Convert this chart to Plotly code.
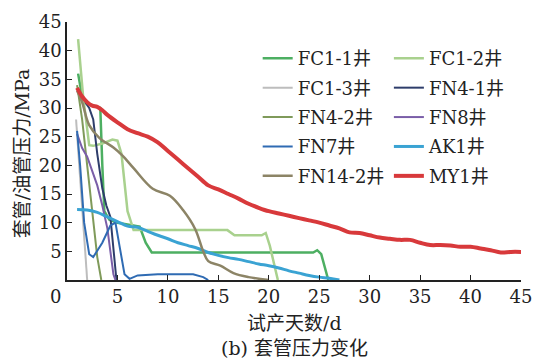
import plotly.graph_objects as go

# ---- data ----
fc11_x = [1.1, 1.6, 2.5, 3.3, 3.5, 3.7, 4.2, 5.0, 6.0, 7.2, 7.8, 8.4, 15.0, 24.4, 24.8, 25.2, 25.9]
fc11_y = [36.0, 31.0, 30.5, 30.0, 20.0, 12.0, 10.5, 10.0, 9.7, 9.3, 6.5, 4.8, 4.8, 4.8, 5.2, 4.5, 0.0]

fc12_x = [1.1, 1.6, 2.2, 2.6, 3.5, 4.5, 5.0, 5.4, 6.0, 6.6, 10.0, 15.9, 16.6, 19.3, 19.7, 20.1, 20.9]
fc12_y = [42.0, 32.0, 23.5, 23.4, 23.8, 24.5, 24.3, 22.0, 12.0, 8.7, 8.7, 8.7, 7.8, 7.8, 8.2, 6.0, 0.0]

fc13_x = [0.9, 1.4, 2.0]
fc13_y = [28.0, 16.0, 0.0]

fn41_x = [1.8, 2.2, 2.6, 3.0, 3.5, 3.9, 4.3, 4.6, 4.9]
fn41_y = [31.0, 30.0, 28.0, 22.0, 16.0, 13.0, 11.0, 6.0, 0.0]

fn42_x = [1.0, 1.5, 2.0, 2.5, 3.0, 3.4]
fn42_y = [34.0, 28.0, 20.0, 12.0, 4.0, 0.0]

fn8_x = [1.0, 1.5, 2.0, 2.5, 3.0, 3.5, 4.0, 4.3, 4.6, 4.8]
fn8_y = [25.5, 23.0, 21.5, 19.0, 16.5, 13.0, 9.0, 5.0, 1.0, 0.0]

fn7_x = [1.0, 1.3, 1.7, 2.2, 2.6, 3.5, 4.3, 4.8, 5.2, 5.7, 6.2, 7.0, 9.0, 11.0, 12.5, 13.5, 14.0]
fn7_y = [26.0, 20.0, 10.0, 4.5, 4.0, 6.5, 9.5, 10.0, 6.0, 1.0, 0.2, 0.8, 1.0, 1.0, 1.0, 0.5, 0.0]

ak1_x = [1, 2, 3, 4, 5, 6, 7, 8, 9, 10, 11, 12, 13, 14, 15, 16, 17, 18, 19, 20, 21, 22, 23, 24, 25, 26, 27]
ak1_y = [12.3, 12.2, 11.8, 11.0, 10.2, 9.4, 9.2, 8.5, 7.8, 7.2, 6.5, 6.0, 5.5, 4.8, 4.3, 3.9, 3.6, 3.2, 2.8,
         2.5, 2.1, 1.6, 1.2, 0.8, 0.5, 0.3, 0.0]

fn142_x = [1.0, 1.5, 2.2, 3.2, 4.6, 5.5, 6.6, 8.5, 10.2, 11.5, 12.7, 13.5, 14.0, 15.2, 16.5, 18.0, 20.0]
fn142_y = [33.0, 31.0, 27.0, 24.8, 23.1, 21.7, 19.5, 15.9, 14.7, 12.2, 8.9, 5.0, 3.3, 2.5, 1.2, 0.5, 0.0]

my1_x = [1, 1.5, 2, 2.5, 3, 3.5, 4, 5, 6, 7, 8, 9, 10, 11, 12, 13, 14, 15, 16, 17, 18, 19, 20, 21, 22, 23,
         24, 25, 26, 27, 28, 29, 30, 31, 32, 33, 34, 35, 36, 37, 38, 39, 40, 41, 42, 43, 44, 45]
my1_y = [33.5, 32.0, 31.0, 30.4, 30.2, 29.6, 28.8, 27.5, 26.3, 25.6, 25.0, 24.0, 22.5, 21.0, 19.5, 18.0,
         16.5, 15.8, 15.0, 14.2, 13.3, 12.6, 12.0, 11.6, 11.2, 10.8, 10.4, 10.0, 9.5, 9.0, 8.3, 8.2, 7.8,
         7.4, 7.2, 7.0, 7.0, 6.5, 6.1, 6.1, 6.0, 5.8, 5.8, 5.5, 5.2, 4.8, 4.9, 4.9]

names = ["FC1-1井", "FC1-2井", "FC1-3井", "FN4-1井", "FN4-2井", "FN8井", "FN7井", "AK1井", "FN14-2井", "MY1井"]
xs = [fc11_x, fc12_x, fc13_x, fn41_x, fn42_x, fn8_x, fn7_x, ak1_x, fn142_x, my1_x]
ys = [fc11_y, fc12_y, fc13_y, fn41_y, fn42_y, fn8_y, fn7_y, ak1_y, fn142_y, my1_y]
colors = ["#4daf62", "#a9d18e", "#bdbdbd", "#2e3d6b", "#7f9a5a", "#7a5ea8", "#2f6bb3", "#3aa3d3",
          "#8c8466", "#d8393b"]
widths = [2.5, 2.5, 2, 2, 2, 2, 2, 3, 2.5, 4]
shapes = ["linear", "linear", "linear", "linear", "linear", "linear", "linear", "spline", "spline", "spline"]

tick_vals = [5, 10, 15, 20, 25, 30, 35, 40, 45]

FONT = "DejaVu Serif, Noto Sans CJK SC"

fig = go.Figure()
for i, (n, x, y, c, w, s) in enumerate(zip(names, xs, ys, colors, widths, shapes)):
    fig.add_trace(go.Scatter(x=x, y=y, mode="lines", name=n, legendgroup=n,
                             legend="legend" if i % 2 == 0 else "legend2",
                             line=dict(color=c, width=w, shape=s)))

leg_common = dict(orientation="v", yanchor="top", xanchor="left", bgcolor="rgba(0,0,0,0)",
                  font=dict(family=FONT, size=18, color="#222"), itemwidth=30, tracegroupgap=3)

fig.update_layout(
    width=544, height=364,
    margin=dict(l=67, r=23, t=11, b=84),
    paper_bgcolor="white", plot_bgcolor="white",
    font=dict(family=FONT, size=18, color="#222"),
    showlegend=True,
    legend=dict(x=0.42, y=0.93, **leg_common),
    legend2=dict(x=0.709, y=0.93, **leg_common),
    xaxis=dict(range=[0, 45], tickvals=tick_vals, ticks="inside", ticklen=5, tickwidth=1,
               tickcolor="#222", showline=True, linecolor="#222", linewidth=1.5,
               showgrid=False, zeroline=False, tickfont=dict(family=FONT, size=18)),
    yaxis=dict(range=[0, 45], tickvals=tick_vals, ticks="inside", ticklen=5, tickwidth=1,
               tickcolor="#222", showline=True, linecolor="#222", linewidth=1.5,
               showgrid=False, zeroline=False, tickfont=dict(family=FONT, size=18)),
    annotations=[
        dict(text="0", xref="paper", yref="paper", x=-0.026, y=-0.063, showarrow=False,
             xanchor="center", yanchor="middle", font=dict(family=FONT, size=18)),
        dict(text="试产天数/d", xref="paper", yref="paper", x=0.5, y=-0.165, showarrow=False,
             xanchor="center", yanchor="middle", font=dict(family=FONT, size=19)),
        dict(text="(b) 套管压力变化", xref="paper", yref="paper", x=0.5, y=-0.265, showarrow=False,
             xanchor="center", yanchor="middle", font=dict(family=FONT, size=19)),
        dict(text="套管/油管压力/MPa", xref="paper", yref="paper", x=-0.1, y=0.49, showarrow=False,
             textangle=-90, xanchor="center", yanchor="middle", font=dict(family=FONT, size=19)),
    ],
)

fig.write_html("out.html")
